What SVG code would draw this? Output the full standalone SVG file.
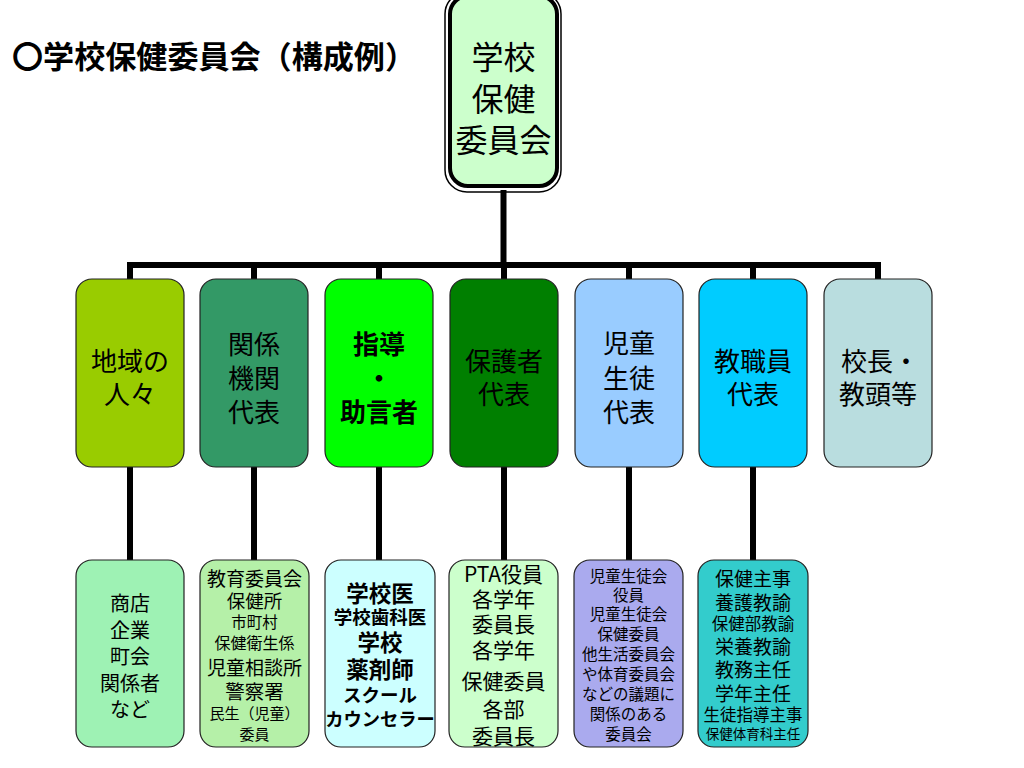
<svg xmlns="http://www.w3.org/2000/svg" width="1024" height="768" viewBox="0 0 1024 768">
<style>
text{font-family:"Noto Sans CJK JP","Liberation Sans",sans-serif;fill:#000;text-anchor:middle;dominant-baseline:central}
.box{stroke:#222;stroke-width:1.2}
.mid{font-size:26px}
.b{font-weight:bold}
.con{stroke:#000;stroke-width:6;fill:none}
</style>
<rect width="1024" height="768" fill="#fff"/>
<text id="title" x="12" y="54" style="text-anchor:start;font-size:31px;font-weight:bold" textLength="404" lengthAdjust="spacingAndGlyphs">〇学校保健委員会（構成例）</text>

<g id="connectors">
<line class="con" x1="503.5" y1="190" x2="503.5" y2="265"/>
<line class="con" x1="127" y1="265" x2="881" y2="265"/>
<path class="con" d="M130 265V280M254 265V280M379 265V280M504 265V280M629 265V280M753 265V280M878 265V280"/>
<path class="con" d="M130 466V561M254 466V561M379 466V561M504 466V561M629 466V561M753 466V561"/>
</g>

<g id="top">
<rect x="445" y="-8" width="116" height="200" rx="22" fill="none" stroke="#000" stroke-width="1.5"/>
<rect x="450" y="-4" width="107" height="190" rx="18" fill="#CCFFCC" stroke="#000" stroke-width="4"/>
<text x="503.5" y="55" font-size="32">学校</text>
<text x="503.5" y="97" font-size="32">保健</text>
<text x="503.5" y="138" font-size="32">委員会</text>
</g>

<g id="m1"><rect class="box" x="76" y="279" width="108" height="188" rx="16" fill="#99CC00"/>
<text class="mid" x="130" y="359">地域の</text><text class="mid" x="130" y="392">人々</text></g>
<g id="m2"><rect class="box" x="200" y="279" width="108" height="188" rx="16" fill="#339966"/>
<text class="mid" x="254" y="342">関係</text><text class="mid" x="254" y="376">機関</text><text class="mid" x="254" y="410">代表</text></g>
<g id="m3"><rect class="box" x="325" y="279" width="108" height="188" rx="16" fill="#00FF00"/>
<text class="mid b" x="379" y="342">指導</text><text class="mid b" x="379" y="376">・</text><text class="mid b" x="379" y="410">助言者</text></g>
<g id="m4"><rect class="box" x="450" y="279" width="108" height="188" rx="16" fill="#007F00"/>
<text class="mid" x="504" y="359">保護者</text><text class="mid" x="504" y="392">代表</text></g>
<g id="m5"><rect class="box" x="575" y="279" width="108" height="188" rx="16" fill="#99CCFF"/>
<text class="mid" x="629" y="341">児童</text><text class="mid" x="629" y="376">生徒</text><text class="mid" x="629" y="410">代表</text></g>
<g id="m6"><rect class="box" x="699" y="279" width="108" height="188" rx="16" fill="#00CCFF"/>
<text class="mid" x="753" y="359">教職員</text><text class="mid" x="753" y="392">代表</text></g>
<g id="m7"><rect class="box" x="824" y="279" width="108" height="188" rx="16" fill="#B9DDDF"/>
<text class="mid" x="880" y="359">校長・</text><text class="mid" x="878" y="392">教頭等</text></g>

<g id="b1"><rect class="box" x="76" y="560" width="108" height="187" rx="16" fill="#9EF2B4"/>
<g font-size="20"><text x="130" y="602">商店</text><text x="130" y="629">企業</text><text x="130" y="655">町会</text><text x="130" y="682">関係者</text><text x="130" y="708">など</text></g></g>

<g id="b2"><rect class="box" x="200" y="560" width="109" height="187" rx="16" fill="#B5F0A8"/>
<text x="254.5" y="577" font-size="19">教育委員会</text>
<text x="254.5" y="600" font-size="18.5">保健所</text>
<text x="254.5" y="621" font-size="15.5">市町村</text>
<text x="254.5" y="642" font-size="16">保健衛生係</text>
<text x="254.5" y="666" font-size="19">児童相談所</text>
<text x="254.5" y="690" font-size="19.5">警察署</text>
<text x="254.5" y="712" font-size="15">民生（児童）</text>
<text x="254.5" y="733" font-size="15">委員</text></g>

<g id="b3"><rect class="box" x="325" y="560" width="110" height="187" rx="16" fill="#CCFFFF"/>
<text class="b" x="380" y="592" font-size="22.5">学校医</text>
<text class="b" x="380" y="616" font-size="18.5">学校歯科医</text>
<text class="b" x="380" y="641" font-size="22.5">学校</text>
<text class="b" x="380" y="668" font-size="22.5">薬剤師</text>
<text class="b" x="380" y="694" font-size="18.5">スクール</text>
<text class="b" x="380" y="718" font-size="18.3">カウンセラー</text></g>

<g id="b4"><rect class="box" x="449" y="560" width="109" height="187" rx="16" fill="#CCFFCC"/>
<g font-size="21"><text x="503.5" y="573">PTA役員</text><text x="503.5" y="598">各学年</text><text x="503.5" y="623">委員長</text><text x="503.5" y="649">各学年</text><text x="503.5" y="680">保健委員</text><text x="503.5" y="708">各部</text><text x="503.5" y="735">委員長</text></g></g>

<g id="b5"><rect class="box" x="574" y="560" width="109" height="187" rx="16" fill="#AAAAEE"/>
<g font-size="15.5"><text x="628.5" y="575">児童生徒会</text><text x="628.5" y="594">役員</text><text x="628.5" y="613">児童生徒会</text><text x="628.5" y="633">保健委員</text><text x="628.5" y="653">他生活委員会</text><text x="628.5" y="673">や体育委員会</text><text x="628.5" y="693">などの議題に</text><text x="628.5" y="713">関係のある</text><text x="628.5" y="733">委員会</text></g></g>

<g id="b6"><rect class="box" x="698" y="560" width="110" height="187" rx="16" fill="#33CCCC"/>
<text x="753" y="577" font-size="19">保健主事</text>
<text x="753" y="601" font-size="19">養護教諭</text>
<text x="753" y="623" font-size="16.5">保健部教諭</text>
<text x="753" y="645" font-size="19">栄養教諭</text>
<text x="753" y="668" font-size="19">教務主任</text>
<text x="753" y="692" font-size="19">学年主任</text>
<text x="753" y="714" font-size="16.5">生徒指導主事</text>
<text x="753" y="733" font-size="13.5">保健体育科主任</text></g>
</svg>
